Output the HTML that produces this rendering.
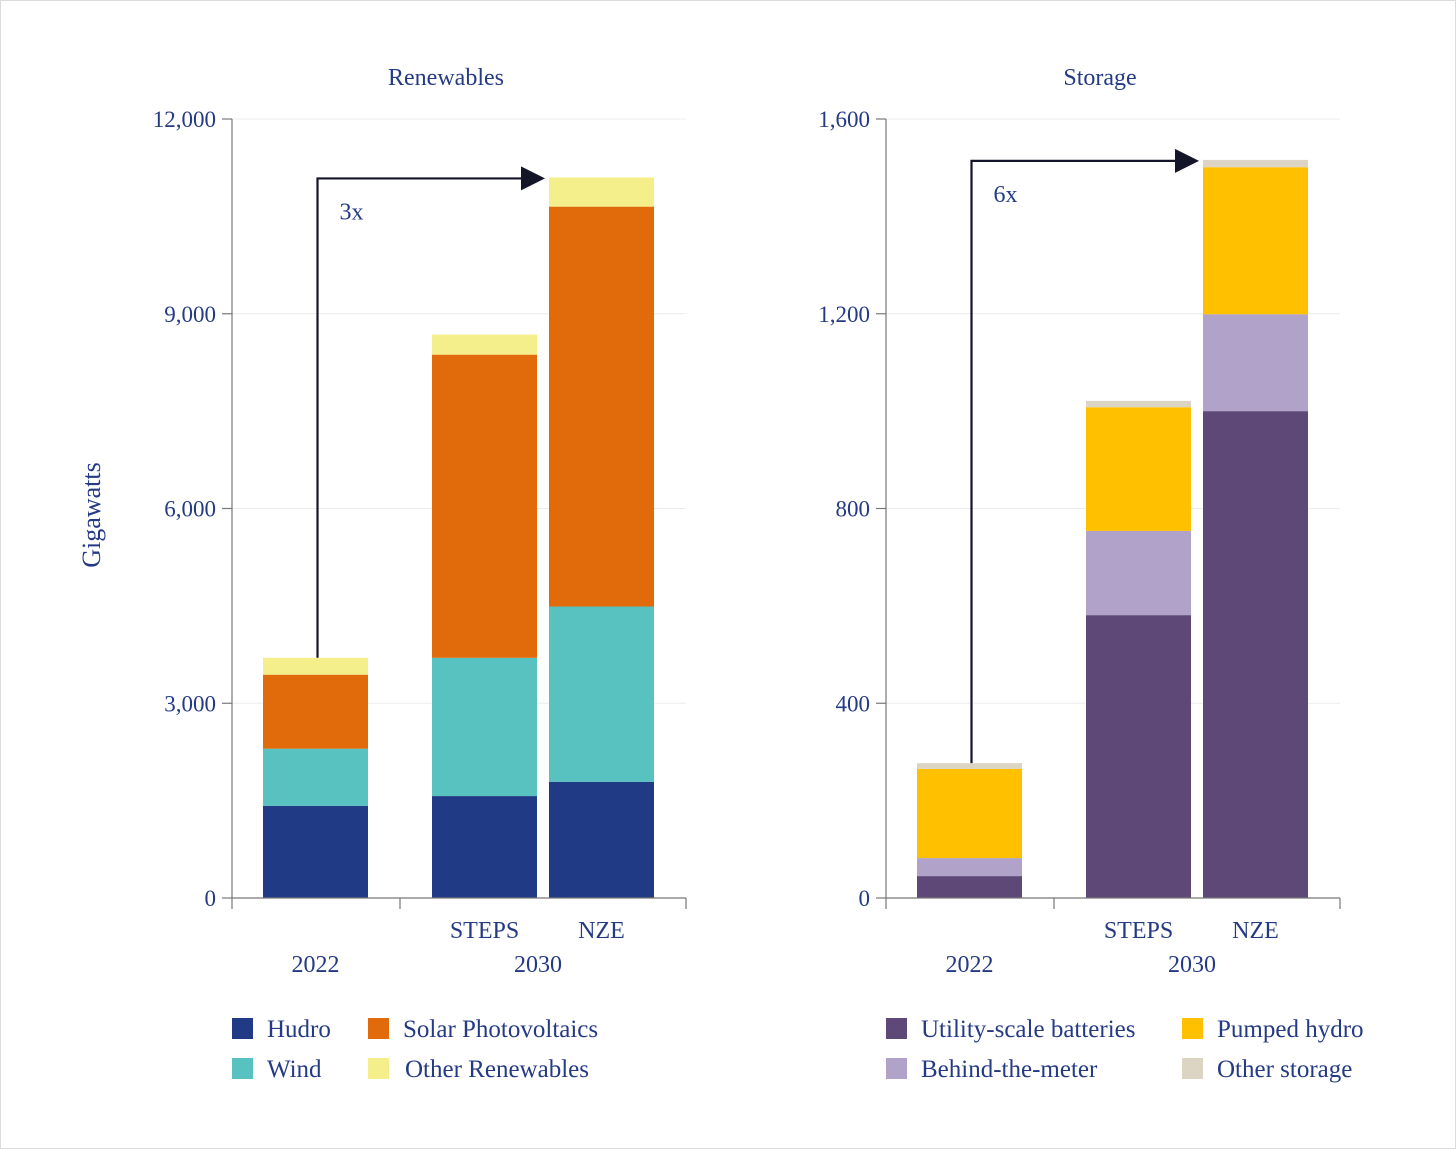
<!DOCTYPE html>
<html><head><meta charset="utf-8"><style>
html,body{margin:0;padding:0;background:#fff}
svg{display:block}
text{font-family:"Liberation Serif","DejaVu Serif",serif;fill:#253a85}
</style></head><body>
<svg id="chart" width="1456" height="1149" viewBox="0 0 1456 1149" xmlns="http://www.w3.org/2000/svg">
<rect x="0.5" y="0.5" width="1455" height="1148" fill="#fff" stroke="#dcdcdc"/>
<text x="100" y="515" font-size="26" text-anchor="middle" transform="rotate(-90 100 515)">Gigawatts</text>
</svg>
<script>
const renewCategories = ["2022","STEPS","NZE"];
const hydroValues = [1420, 1570, 1790];
const windValues = [880, 2130, 2700];
const solarValues = [1140, 4670, 6160];
const otherRenewValues = [260, 310, 450];
const renewTicks = [0, 3000, 6000, 9000, 12000];
const renewTickLabels = ["0","3,000","6,000","9,000","12,000"];

const storageCategories = ["2022","STEPS","NZE"];
const utilityValues = [45, 581, 1000];
const btmValues = [37, 173, 199];
const pumpedValues = [183, 254, 302];
const otherStorageValues = [12, 13, 15];
const storageTicks = [0, 400, 800, 1200, 1600];
const storageTickLabels = ["0","400","800","1,200","1,600"];

const svg = document.getElementById('chart');
const NS = 'http://www.w3.org/2000/svg';
function mk(tag, attrs, parent){const e=document.createElementNS(NS,tag);for(const k in attrs)e.setAttribute(k,attrs[k]);(parent||svg).appendChild(e);return e;}
function txt(x,y,s,size,anchor,parent){const t=mk('text',{x:x,y:y,'font-size':size,'text-anchor':anchor||'middle'},parent);t.textContent=s;return t;}

function panel(cfg){
  const g = mk('g',{});
  
  
  const y0=898, y1=119;
  const yScale = v => y0 - (v/cfg.max)*(y0-y1);
  const barX = [cfg.x0+31, cfg.x0+200, cfg.x0+317];
  const bw = 105;
  cfg.ticks.forEach((v,i)=>{
    const y=yScale(v);
    if(v>0){const gl=mk('line',{x1:cfg.x0,x2:cfg.x0+454,y1:y,y2:y,stroke:'#ececec','stroke-width':1},g);
      
      }
    mk('line',{x1:cfg.x0-10,x2:cfg.x0,y1:y,y2:y,stroke:'#777','stroke-width':1.2},g);
    const t=txt(cfg.x0-16,y+8,cfg.tickLabels[i],23,'end',g);
    
    
  });
  for(let c=0;c<3;c++){
    let acc=0;
    cfg.stack.forEach((s)=>{
      const v=s.values[c];
      const r=mk('rect',{x:barX[c],width:bw,y:yScale(acc+v),height:yScale(acc)-yScale(acc+v),fill:s.color},g);
      
      
      acc+=v;
    });
  }
  mk('line',{x1:cfg.x0,x2:cfg.x0,y1:y1,y2:y0,stroke:'#777','stroke-width':1.2},g);
  mk('line',{x1:cfg.x0,x2:cfg.x0+454,y1:y0,y2:y0,stroke:'#777','stroke-width':1.2},g);
  [cfg.x0, cfg.x0+168, cfg.x0+454].forEach(x=>mk('line',{x1:x,x2:x,y1:y0,y2:y0+11,stroke:'#777','stroke-width':1.2},g));
  txt(barX[1]+bw/2,938,cfg.cats[1],24,'middle',g);
  txt(barX[2]+bw/2,938,cfg.cats[2],24,'middle',g);
  txt(barX[0]+bw/2,972,'2022',24,'middle',g);
  txt(cfg.x0+306,972,'2030',24,'middle',g);
  const tt=txt(cfg.x0+214,85,cfg.title,24,'middle',g);
  
  
  const tot = c => cfg.stack.reduce((a,s)=>a+s.values[c],0);
  const ax = barX[0]+bw/2+2, ay0 = yScale(tot(0)), ay1 = yScale(tot(2))+1;
  const arr=mk('path',{d:`M${ax} ${ay0} V${ay1} H${barX[2]-26}`,fill:'none',stroke:'#15152a','stroke-width':2.2},g);
  
  
  mk('polygon',{points:`${barX[2]-28},${ay1-12} ${barX[2]-4},${ay1} ${barX[2]-28},${ay1+12}`,fill:'#15152a'},g);
  const ml=txt(ax+22,ay1+41,cfg.mult,24,'start',g);
  
  
  cfg.legend.forEach((s,i)=>{
    const lx = cfg.x0 + (i===0||i===2?0:136+cfg.legendShift);
    const ly = (i<2?1018:1058);
    const li=mk('g',{},g);
    
    
    mk('rect',{x:lx,y:ly,width:21,height:21,fill:s.color},li);
    txt(lx+35+(s.key==='other-renewables'?2:0),ly+19,s.label,25,'start',li);
  });
}

const sHydro={key:'hydro',label:'Hudro',color:'#203a86',values:hydroValues};
const sSolar={key:'solar',label:'Solar Photovoltaics',color:'#e16b0a',values:solarValues};
const sWind={key:'wind',label:'Wind',color:'#57c2bf',values:windValues};
const sOtherR={key:'other-renewables',label:'Other Renewables',color:'#f5ef8b',values:otherRenewValues};
panel({name:'renewables-panel',x0:232,max:12000,ticks:renewTicks,tickLabels:renewTickLabels,cats:renewCategories,title:'Renewables',mult:'3x',legendShift:0,
  stack:[sHydro,sWind,sSolar,sOtherR], legend:[sHydro,sSolar,sWind,sOtherR]});

const sUtil={key:'utility-batteries',label:'Utility-scale batteries',color:'#5e4878',values:utilityValues};
const sPump={key:'pumped-hydro',label:'Pumped hydro',color:'#ffc000',values:pumpedValues};
const sBtm={key:'behind-the-meter',label:'Behind-the-meter',color:'#b1a2ca',values:btmValues};
const sOtherS={key:'other-storage',label:'Other storage',color:'#ddd5c4',values:otherStorageValues};
panel({name:'storage-panel',x0:886,max:1600,ticks:storageTicks,tickLabels:storageTickLabels,cats:storageCategories,title:'Storage',mult:'6x',legendShift:160,
  stack:[sUtil,sBtm,sPump,sOtherS], legend:[sUtil,sPump,sBtm,sOtherS]});
</script>
</body></html>
